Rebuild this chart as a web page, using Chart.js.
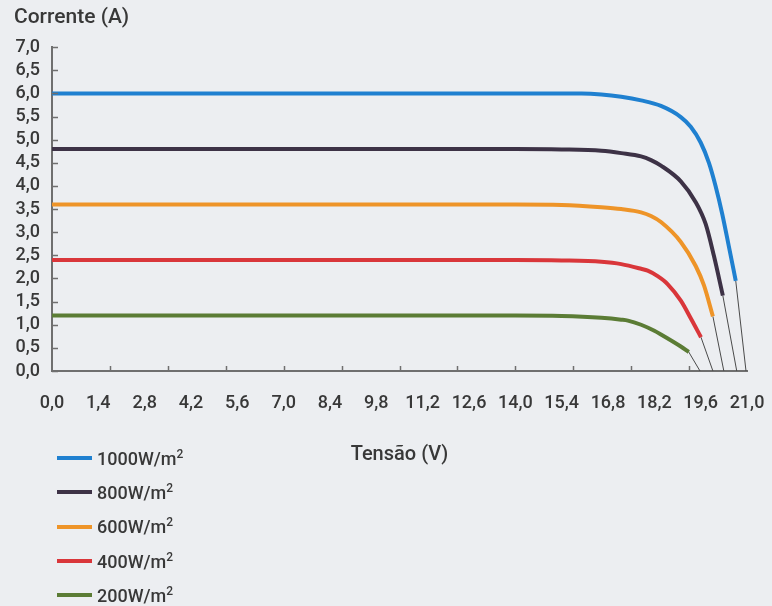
<!DOCTYPE html>
<html>
<head>
<meta charset="utf-8">
<script src="https://cdn.jsdelivr.net/npm/chart.js@4.4.1/dist/chart.umd.min.js"></script>
<style>
  html, body { margin: 0; padding: 0; overflow: hidden; }
  body { background: #eceef1; font-family: Roboto, "Noto Sans", sans-serif; }
  #wrap { position: relative; width: 772px; height: 606px; }
  #legend { position: absolute; left: 57px; top: 441px; }
  .item { display: flex; align-items: center; height: 34.3px; }
  .swatch { width: 35px; height: 4px; margin-right: 5px; }
  .item span { font-size: 18px; font-weight: 500; color: #383838; }
  .item sup { font-size: 12px; vertical-align: 7px; line-height: 0; }
</style>
</head>
<body>
<div id="wrap">
  <canvas id="chart" width="772" height="606"></canvas>
  <div id="legend"></div>
</div>
<script>
// Tick labels
const xTicks = [0, 1.4, 2.8, 4.2, 5.6, 7.0, 8.4, 9.8, 11.2, 12.6, 14.0, 15.4, 16.8, 18.2, 19.6, 21.0];
const yTicks = [0, 0.5, 1.0, 1.5, 2.0, 2.5, 3.0, 3.5, 4.0, 4.5, 5.0, 5.5, 6.0, 6.5, 7.0];
// the tick marks on the x axis are not at the labels
const xMarks = [1.75, 3.5, 5.25, 7.0, 8.75, 10.5, 12.25, 14.0, 15.75, 17.5, 19.25];

const seriesNames = ['1000W/m2', '800W/m2', '600W/m2', '400W/m2', '200W/m2'];
const seriesColors = ['#1f80d0', '#3d3246', '#ee9428', '#d9363a', '#5b7c35'];

// curvas I-V (tensão V, corrente A)
const v1000 = [0, 14.0, 16.0, 16.6, 17.2, 17.8, 18.4, 19.0, 19.3, 19.6, 19.85, 20.05, 20.25, 20.45, 20.66];
const i1000 = [6.0, 6.0, 6.0, 5.98, 5.93, 5.85, 5.73, 5.49, 5.28, 4.94, 4.5, 4.0, 3.4, 2.7, 1.95];
const v800 = [0, 14.0, 15.4, 16.6, 17.2, 17.8, 18.1, 18.4, 19.0, 19.45, 19.75, 20.0, 20.27];
const i800 = [4.8, 4.8, 4.79, 4.76, 4.71, 4.64, 4.56, 4.44, 4.1, 3.65, 3.18, 2.49, 1.63];
const v600 = [0, 14.0, 15.4, 16.6, 17.2, 17.8, 18.1, 18.4, 19.0, 19.45, 19.7, 19.97];
const i600 = [3.6, 3.6, 3.59, 3.54, 3.5, 3.43, 3.35, 3.22, 2.79, 2.27, 1.85, 1.18];
const v400 = [0, 14.0, 15.4, 16.6, 17.2, 17.8, 18.0, 18.3, 18.6, 19.0, 19.3, 19.61];
const i400 = [2.4, 2.4, 2.39, 2.36, 2.31, 2.21, 2.17, 2.05, 1.88, 1.52, 1.14, 0.73];
const v200 = [0, 14.0, 15.4, 16.6, 17.2, 17.4, 17.8, 18.2, 18.4, 19.0, 19.24];
const i200 = [1.2, 1.2, 1.19, 1.15, 1.11, 1.09, 1.0, 0.87, 0.79, 0.53, 0.41];

// prolongamento fino até o eixo
const vTail1000 = [20.66, 20.97], iTail1000 = [1.95, 0];
const vTail800 = [20.27, 20.69], iTail800 = [1.63, 0];
const vTail600 = [19.97, 20.3], iTail600 = [1.18, 0];
const vTail400 = [19.61, 19.97], iTail400 = [0.73, 0];
const vTail200 = [19.24, 19.58], iTail200 = [0.41, 0];

const curves = [[v1000, i1000], [v800, i800], [v600, i600], [v400, i400], [v200, i200]];
const tails = [[vTail1000, iTail1000], [vTail800, iTail800], [vTail600, iTail600], [vTail400, iTail400], [vTail200, iTail200]];

function pts(xs, ys) {
    return xs.map((x, k) => ({ x: x, y: ys[k] }));
}

const datasets = [];
curves.forEach((c, k) => {
    datasets.push({
        label: seriesNames[k],
        data: pts(c[0], c[1]),
        borderColor: seriesColors[k],
        borderWidth: 4,
        pointRadius: 0,
        cubicInterpolationMode: 'monotone',
        fill: false
    });
});
tails.forEach(t => {
    datasets.push({
        label: '',
        data: pts(t[0], t[1]),
        borderColor: '#4a4a4a',
        borderWidth: 1,
        pointRadius: 0,
        fill: false
    });
});

const fmt = v => Number(v).toFixed(1).replace('.', ',');
const axisColor = '#6f6f6f';
const textColor = '#383838';

// pequenos traços para dentro do gráfico
const innerTicks = {
    id: 'innerTicks',
    afterDatasetsDraw(chart) {
        const ctx = chart.ctx;
        const xs = chart.scales.x, ys = chart.scales.y;
        ctx.save();
        ctx.strokeStyle = axisColor;
        ctx.lineWidth = 1.5;
        ctx.beginPath();
        yTicks.forEach(v => {
            const py = Math.round(ys.getPixelForValue(v)) + 0.5;
            ctx.moveTo(xs.left, py);
            ctx.lineTo(xs.left + 6, py);
        });
        xMarks.forEach(v => {
            const px = Math.round(xs.getPixelForValue(v)) + 0.5;
            ctx.moveTo(px, ys.bottom);
            ctx.lineTo(px, ys.bottom - 5);
        });
        ctx.stroke();
        ctx.restore();
    }
};

const chart = new Chart(document.getElementById('chart'), {
    type: 'line',
    data: { datasets: datasets },
    plugins: [innerTicks],
    options: {
        responsive: false,
        animation: false,
        layout: { padding: { left: 14, right: 25, top: 0, bottom: 139 } },
        plugins: {
            legend: { display: false },
            tooltip: { enabled: false },
            title: {
                display: true,
                text: 'Corrente (A)',
                align: 'start',
                color: textColor,
                font: { family: 'Roboto', size: 21, weight: '500' },
                padding: { top: 5, bottom: 17 }
            }
        },
        scales: {
            x: {
                type: 'linear',
                min: 0,
                max: 21,
                afterBuildTicks: s => { s.ticks = xTicks.map(v => ({ value: v })); },
                afterFit: s => { s.height = 96; s.paddingRight = 0; s.paddingLeft = 0; },
                grid: { display: false, drawTicks: false },
                border: { display: true, color: axisColor, width: 2 },
                ticks: {
                    padding: 22,
                    color: textColor,
                    font: { family: 'Roboto', size: 18, weight: '500' },
                    maxRotation: 0,
                    autoSkip: false,
                    callback: v => fmt(v)
                },
                title: {
                    display: true,
                    text: 'Tensão (V)',
                    color: textColor,
                    font: { family: 'Roboto', size: 20, weight: '500' },
                    padding: { top: 0, bottom: 0 }
                }
            },
            y: {
                min: 0,
                max: 7,
                afterBuildTicks: s => { s.ticks = yTicks.map(v => ({ value: v })); },
                afterFit: s => { s.width = 38; },
                grid: { display: false, drawTicks: false },
                border: { display: true, color: axisColor, width: 2 },
                ticks: {
                    padding: 12,
                    color: textColor,
                    font: { family: 'Roboto', size: 18, weight: '500' },
                    autoSkip: false,
                    callback: v => fmt(v)
                }
            }
        }
    }
});

// legenda vertical
const legend = document.getElementById('legend');
seriesNames.forEach((name, k) => {
    const row = document.createElement('div');
    row.className = 'item';
    row.innerHTML = `<div class="swatch" style="background:${seriesColors[k]}"></div><span>${name.slice(0, -1)}<sup>${name.slice(-1)}</sup></span>`;
    legend.appendChild(row);
});
</script>
</body>
</html>
